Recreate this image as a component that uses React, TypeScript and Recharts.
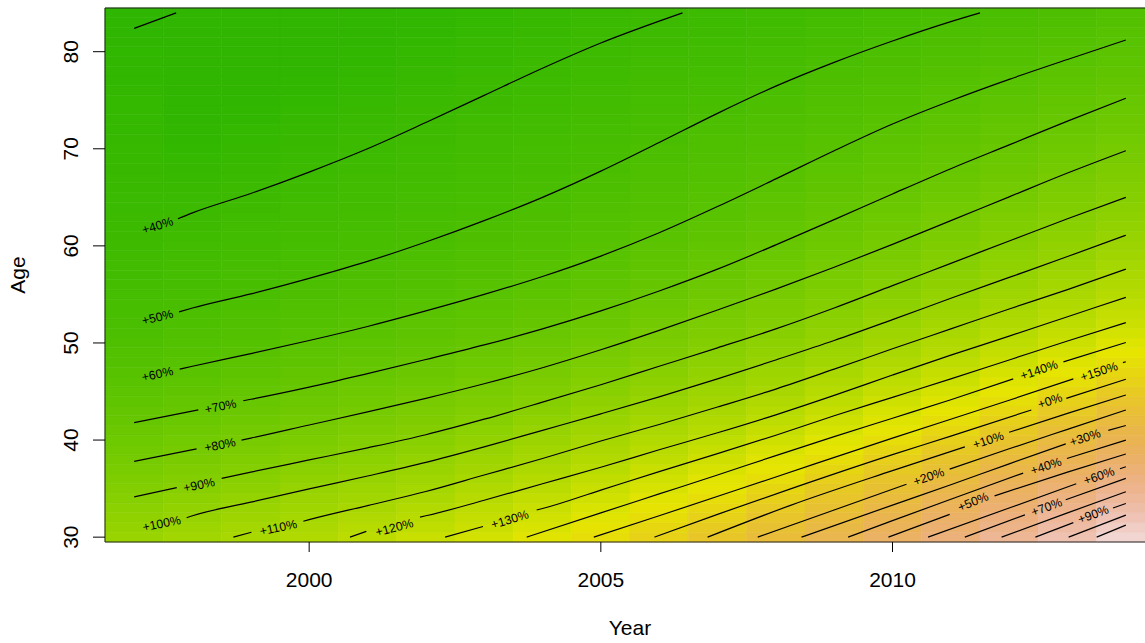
import React from 'react';
import {
  ComposedChart,
  Line,
  XAxis,
  YAxis,
  ReferenceArea,
  ReferenceDot,
} from 'recharts';

type Pt = [number, number | null];

const FONT = '"Liberation Sans", Arial, Helvetica, sans-serif';

// heatmap cells: one per year and age
const years = [1997, 1998, 1999, 2000, 2001, 2002, 2003, 2004, 2005, 2006, 2007, 2008, 2009, 2010, 2011, 2012, 2013, 2014];
const ages = Array.from({ length: 55 }, (_, i) => 30 + i);

const xTicks = [2000, 2005, 2010];
const yTicks = [30, 40, 50, 60, 70, 80];

// contour lines as [year, age]; a null age is the break left under a label
const c30: Pt[] = [[1997, 82.4], [1997.72, 84]];
const c40: Pt[] = [[1997, 61.4], [1997.4, null], [1997.75, 62.8], [1998, 63.4], [1999, 65.4], [2000, 67.6], [2001, 70.0], [2002, 72.7], [2003, 75.5], [2004, 78.3], [2005, 80.9], [2006, 83.15], [2006.4, 84]];
const c50: Pt[] = [[1997, 52.1], [1997.4, null], [1997.77, 53.2], [1998, 53.6], [1999, 55.05], [2000, 56.65], [2001, 58.4], [2002, 60.4], [2003, 62.6], [2004, 65.0], [2005, 67.7], [2006, 70.65], [2007, 73.65], [2008, 76.45], [2009, 78.9], [2010, 81.1], [2011, 83.1], [2011.5, 84]];
const c60: Pt[] = [[1997, 46.3], [1997.4, null], [1997.78, 47.3], [1998, 47.6], [1999, 48.9], [2000, 50.25], [2001, 51.7], [2002, 53.3], [2003, 55.0], [2004, 56.85], [2005, 58.95], [2006, 61.35], [2007, 64.05], [2008, 66.9], [2009, 69.8], [2010, 72.55], [2011, 74.95], [2012, 77.15], [2013, 79.2], [2014, 81.2]];
const c70: Pt[] = [[1997, 41.8], [1998.1, 43.1], [1998.48, null], [1998.87, 44.05], [1999, 44.2], [2000, 45.45], [2001, 46.85], [2002, 48.3], [2003, 49.8], [2004, 51.45], [2005, 53.3], [2006, 55.35], [2007, 57.6], [2008, 60.1], [2009, 62.7], [2010, 65.35], [2011, 67.95], [2012, 70.4], [2013, 72.85], [2014, 75.2]];
const c80: Pt[] = [[1997, 37.8], [1998.07, 39.1], [1998.47, null], [1998.84, 40.0], [1999, 40.2], [2000, 41.55], [2001, 42.9], [2002, 44.3], [2003, 45.8], [2004, 47.45], [2005, 49.3], [2006, 51.3], [2007, 53.4], [2008, 55.55], [2009, 57.8], [2010, 60.15], [2011, 62.6], [2012, 65.05], [2013, 67.5], [2014, 69.8]];
const c90: Pt[] = [[1997, 34.15], [1997.73, 35.1], [1998.11, null], [1998.5, 36.05], [1999, 36.7], [2000, 37.95], [2001, 39.2], [2002, 40.55], [2003, 42.15], [2004, 43.9], [2005, 45.7], [2006, 47.6], [2007, 49.5], [2008, 51.45], [2009, 53.6], [2010, 55.9], [2011, 58.2], [2012, 60.5], [2013, 62.8], [2014, 65.0]];
const c100: Pt[] = [[1997, 30.9], [1997.47, null], [1997.9, 32.0], [1998, 32.2], [1999, 33.6], [2000, 34.97], [2001, 36.3], [2002, 37.7], [2003, 39.3], [2004, 41.0], [2005, 42.7], [2006, 44.45], [2007, 46.3], [2008, 48.25], [2009, 50.25], [2010, 52.4], [2011, 54.6], [2012, 56.75], [2013, 58.9], [2014, 61.1]];
const c110: Pt[] = [[1998.7, 30], [1999.01, 30.5], [1999.47, null], [1999.9, 31.64], [2000, 31.8], [2001, 33.25], [2002, 34.7], [2003, 36.4], [2004, 38.1], [2005, 39.9], [2006, 41.6], [2007, 43.4], [2008, 45.25], [2009, 47.3], [2010, 49.4], [2011, 51.45], [2012, 53.5], [2013, 55.5], [2014, 57.6]];
const c120: Pt[] = [[2000.7, 30], [2000.98, 30.6], [2001.46, null], [2001.9, 32.07], [2002, 32.2], [2003, 33.8], [2004, 35.5], [2005, 37.2], [2006, 39.0], [2007, 40.75], [2008, 42.6], [2009, 44.6], [2010, 46.7], [2011, 48.75], [2012, 50.7], [2013, 52.7], [2014, 54.7]];
const c130: Pt[] = [[2002.33, 30], [2002.98, 31.1], [2003.44, null], [2003.9, 32.8], [2004, 32.95], [2005, 34.85], [2006, 36.75], [2007, 38.6], [2008, 40.5], [2009, 42.5], [2010, 44.4], [2011, 46.3], [2012, 48.25], [2013, 50.2], [2014, 52.1]];
const c140: Pt[] = [[2003.73, 30], [2005, 32.5], [2006, 34.45], [2007, 36.4], [2008, 38.4], [2009, 40.35], [2010, 42.25], [2011, 44.15], [2012.07, 46.3], [2012.51, null], [2012.93, 48.05], [2014, 50.05]];
const c150: Pt[] = [[2004.88, 30], [2006, 32.2], [2008, 36.2], [2010, 40.2], [2012, 44.1], [2013.1, 46.3], [2013.54, null], [2013.95, 47.97], [2014, 48.07]];
const c160: Pt[] = [[2005.92, 30], [2007, 32.35], [2008.24, 34.95], [2010, 38.5], [2011, 40.4], [2012.38, 43.1], [2012.7, null], [2012.98, 44.3], [2014, 46.26]];
const c170: Pt[] = [[2006.83, 30], [2008.24, 33.25], [2010, 36.85], [2011.24, 39.3], [2011.64, null], [2012.0, 40.8], [2013, 42.75], [2014, 44.64]];
const c180: Pt[] = [[2007.69, 30], [2009, 32.8], [2010.24, 35.45], [2010.62, null], [2010.98, 37.0], [2012, 39.1], [2013, 41.1], [2014, 43.09]];
const c190: Pt[] = [[2008.44, 30], [2010, 33.3], [2011, 35.4], [2012, 37.55], [2012.97, 39.6], [2013.3, null], [2013.7, 41.0], [2014, 41.5]];
const c200: Pt[] = [[2009.24, 30], [2010, 31.7], [2011, 33.9], [2012.24, 36.6], [2012.63, null], [2012.99, 38.1], [2014, 40.0]];
const c210: Pt[] = [[2009.93, 30], [2010.98, 32.35], [2011.38, null], [2011.75, 34.25], [2013, 36.7], [2014, 38.56]];
const c220: Pt[] = [[2010.61, 30], [2012, 33.0], [2013.15, 35.5], [2013.54, null], [2013.9, 37.05], [2014, 37.25]];
const c230: Pt[] = [[2011.24, 30], [2012.27, 32.3], [2012.64, null], [2012.97, 33.85], [2014, 36.05]];
const c240: Pt[] = [[2011.87, 30], [2013, 32.5], [2014, 34.67]];
const c250: Pt[] = [[2012.45, 30], [2013.1, 31.5], [2013.44, null], [2013.78, 33.0], [2014, 33.47]];
const c260: Pt[] = [[2013.02, 30], [2014, 32.27]];
const c270: Pt[] = [[2013.5, 30], [2014, 31.24]];

const contours = [
  { level: 30, pts: c30 }, { level: 40, pts: c40 }, { level: 50, pts: c50 },
  { level: 60, pts: c60 }, { level: 70, pts: c70 }, { level: 80, pts: c80 },
  { level: 90, pts: c90 }, { level: 100, pts: c100 }, { level: 110, pts: c110 },
  { level: 120, pts: c120 }, { level: 130, pts: c130 }, { level: 140, pts: c140 },
  { level: 150, pts: c150 }, { level: 160, pts: c160 }, { level: 170, pts: c170 },
  { level: 180, pts: c180 }, { level: 190, pts: c190 }, { level: 200, pts: c200 },
  { level: 210, pts: c210 }, { level: 220, pts: c220 }, { level: 230, pts: c230 },
  { level: 240, pts: c240 }, { level: 250, pts: c250 }, { level: 260, pts: c260 },
  { level: 270, pts: c270 },
];

const labels = [
  { text: '+40%', level: 40, year: 1997.4, age: 62.1 },
  { text: '+50%', level: 50, year: 1997.4, age: 52.67 },
  { text: '+60%', level: 60, year: 1997.4, age: 46.81 },
  { text: '+70%', level: 70, year: 1998.48, age: 43.48 },
  { text: '+80%', level: 80, year: 1998.47, age: 39.51 },
  { text: '+90%', level: 90, year: 1998.11, age: 35.38 },
  { text: '+100%', level: 100, year: 1997.47, age: 31.41 },
  { text: '+110%', level: 110, year: 1999.47, age: 31.0 },
  { text: '+120%', level: 120, year: 2001.46, age: 31.0 },
  { text: '+130%', level: 130, year: 2003.44, age: 31.84 },
  { text: '+140%', level: 140, year: 2012.51, age: 47.22 },
  { text: '+150%', level: 150, year: 2013.54, age: 47.07 },
  { text: '+0%', level: 160, year: 2012.7, age: 44.05 },
  { text: '+10%', level: 170, year: 2011.64, age: 40.0 },
  { text: '+20%', level: 180, year: 2010.62, age: 36.23 },
  { text: '+30%', level: 190, year: 2013.3, age: 40.26 },
  { text: '+40%', level: 200, year: 2012.63, age: 37.34 },
  { text: '+50%', level: 210, year: 2011.38, age: 33.66 },
  { text: '+60%', level: 220, year: 2013.54, age: 36.31 },
  { text: '+70%', level: 230, year: 2012.64, age: 33.11 },
  { text: '+90%', level: 250, year: 2013.44, age: 32.36 },
];

const W = 1160;
const H = 643;
const Y_AXIS_W = 105;
const X_AXIS_H = 101;
const MARGIN = { top: 8, right: 5, left: 0, bottom: 0 };
const X_DOMAIN: [number, number] = [1996.5, 2014.5];
const Y_DOMAIN: [number, number] = [29.5, 84.5];
const PX_YEAR = (W - Y_AXIS_W - MARGIN.right) / (X_DOMAIN[1] - X_DOMAIN[0]);
const PX_AGE = (H - MARGIN.top - X_AXIS_H) / (Y_DOMAIN[1] - Y_DOMAIN[0]);

const known = (pts: Pt[]) => pts.filter((p) => p[1] !== null) as [number, number][];

function ageAt(pts: Pt[], yr: number): number | null {
  const p = known(pts);
  if (yr < p[0][0] - 1e-9 || yr > p[p.length - 1][0] + 1e-9) return null;
  for (let i = 0; i < p.length - 1; i++) {
    if (yr >= p[i][0] && yr <= p[i + 1][0]) {
      const f = (yr - p[i][0]) / (p[i + 1][0] - p[i][0]);
      return p[i][1] + f * (p[i + 1][1] - p[i][1]);
    }
  }
  return p[p.length - 1][1];
}

// value of a cell, read between the contour lines crossing its column
function cellValue(yr: number, age: number): number {
  const cr = contours
    .map((c) => ({ lv: c.level, a: ageAt(c.pts, yr) }))
    .filter((c) => c.a !== null)
    .sort((u, v) => (u.a as number) - (v.a as number)) as { lv: number; a: number }[];
  const n = cr.length - 1;
  if (age <= cr[0].a) {
    const s = (cr[0].lv - cr[1].lv) / (cr[1].a - cr[0].a);
    return Math.min(cr[0].lv + (cr[0].a - age) * s, cr[0].lv + 9.5);
  }
  if (age >= cr[n].a) {
    const s = (cr[n - 1].lv - cr[n].lv) / (cr[n].a - cr[n - 1].a);
    return Math.max(cr[n].lv - (age - cr[n].a) * s, cr[n].lv - 9.5);
  }
  for (let i = 0; i < n; i++) {
    if (age >= cr[i].a && age <= cr[i + 1].a) {
      const f = (age - cr[i].a) / (cr[i + 1].a - cr[i].a);
      return cr[i].lv + f * (cr[i + 1].lv - cr[i].lv);
    }
  }
  return cr[n].lv;
}

// R terrain.colors, continuous
const Z_MIN = -10;
const Z_MAX = 300;
function hsvHex(h: number, s: number, v: number) {
  const f = (k: number) => {
    const kk = (k + h / 60) % 6;
    return v - v * s * Math.max(0, Math.min(kk, 4 - kk, 1));
  };
  const hx = (x: number) => Math.round(x * 255).toString(16).padStart(2, '0');
  return `#${hx(f(5))}${hx(f(3))}${hx(f(1))}`;
}
function terrain(val: number) {
  const t = Math.max(0, Math.min(1, (val - Z_MIN) / (Z_MAX - Z_MIN)));
  if (t < 0.5) {
    const u = t / 0.5;
    return hsvHex(120 - 60 * u, 1, 0.65 + 0.25 * u);
  }
  const u = (t - 0.5) / 0.5;
  return hsvHex(60 - 60 * u, 1 - u, 0.9 + 0.05 * u);
}

const cells = years.flatMap((yr) => ages.map((age) => ({ yr, age, fill: terrain(cellValue(yr, age)) })));

function labelAngle(level: number, year: number) {
  const p = known(contours.find((c) => c.level === level)!.pts);
  let a = p[0];
  let b = p[p.length - 1];
  for (let i = 0; i < p.length - 1; i++) {
    if (p[i][0] <= year && p[i + 1][0] >= year) { a = p[i]; b = p[i + 1]; }
  }
  const dx = (b[0] - a[0]) * PX_YEAR;
  const dy = (b[1] - a[1]) * PX_AGE;
  return (-Math.atan2(dy, dx) * 180) / Math.PI;
}

const XTick = (props: any) => (
  <text x={props.x} y={props.y + 33} textAnchor="middle" fontSize={21} fontFamily={FONT} fill="#000">
    {props.payload.value}
  </text>
);

const YTick = (props: any) => (
  <text
    x={props.x - 13}
    y={props.y}
    textAnchor="middle"
    fontSize={21}
    fontFamily={FONT}
    fill="#000"
    transform={`rotate(-90, ${props.x - 13}, ${props.y})`}
  >
    {props.payload.value}
  </text>
);

export default function App() {
  return (
    <div style={{ position: 'fixed', left: 0, top: 0, width: 1145, height: 643, overflow: 'hidden', background: '#fff' }}>
      <ComposedChart width={W} height={H} margin={MARGIN}>
        <XAxis
          type="number"
          dataKey="year"
          domain={X_DOMAIN}
          allowDataOverflow
          ticks={xTicks}
          interval={0}
          height={X_AXIS_H}
          tickSize={10}
          axisLine={false}
          tickLine={{ stroke: '#000' }}
          tick={XTick}
          label={(p: any) => {
            const vb = p.viewBox || { x: Y_AXIS_W, y: H - X_AXIS_H, width: W - Y_AXIS_W - MARGIN.right };
            return (
              <text x={vb.x + vb.width / 2} y={635} textAnchor="middle" fontSize={21} fontFamily={FONT} fill="#000">
                Year
              </text>
            );
          }}
        />
        <YAxis
          type="number"
          domain={Y_DOMAIN}
          allowDataOverflow
          ticks={yTicks}
          interval={0}
          width={Y_AXIS_W}
          tickSize={12}
          axisLine={false}
          tickLine={{ stroke: '#000' }}
          tick={YTick}
          label={(p: any) => {
            const vb = p.viewBox || { y: MARGIN.top, height: H - MARGIN.top - X_AXIS_H };
            const cy = vb.y + vb.height / 2;
            return (
              <text x={25} y={cy} textAnchor="middle" fontSize={21} fontFamily={FONT} fill="#000" transform={`rotate(-90, 25, ${cy})`}>
                Age
              </text>
            );
          }}
        />
        {cells.map((c) => (
          <ReferenceArea
            key={`cell-${c.yr}-${c.age}`}
            x1={c.yr - 0.5}
            x2={c.yr + 0.5}
            y1={c.age - 0.5}
            y2={c.age + 0.5}
            fill={c.fill}
            fillOpacity={1}
            stroke={c.fill}
            strokeWidth={0.6}
            ifOverflow="visible"
          />
        ))}
        <ReferenceArea x1={X_DOMAIN[0]} x2={X_DOMAIN[1]} y1={Y_DOMAIN[0]} y2={Y_DOMAIN[1]} fill="none" stroke="#222" strokeWidth={1} ifOverflow="visible" />
        {contours.map((c) => (
          <Line
            key={`level-${c.level}`}
            data={c.pts.map(([year, age]) => ({ year, age }))}
            dataKey="age"
            type="monotone"
            stroke="#000"
            strokeWidth={1.2}
            dot={false}
            activeDot={false}
            legendType="none"
            isAnimationActive={false}
          />
        ))}
        {labels.map((l) => {
          const ang = labelAngle(l.level, l.year);
          return (
            <ReferenceDot
              key={`lab-${l.level}`}
              x={l.year}
              y={l.age}
              r={2}
              ifOverflow="visible"
              shape={(p: any) => (
                <text
                  x={p.cx}
                  y={p.cy}
                  dy="0.35em"
                  textAnchor="middle"
                  fontSize={12.3}
                  fontFamily={FONT}
                  fill="#000"
                  transform={`rotate(${ang}, ${p.cx}, ${p.cy})`}
                >
                  {l.text}
                </text>
              )}
            />
          );
        })}
      </ComposedChart>
    </div>
  );
}
